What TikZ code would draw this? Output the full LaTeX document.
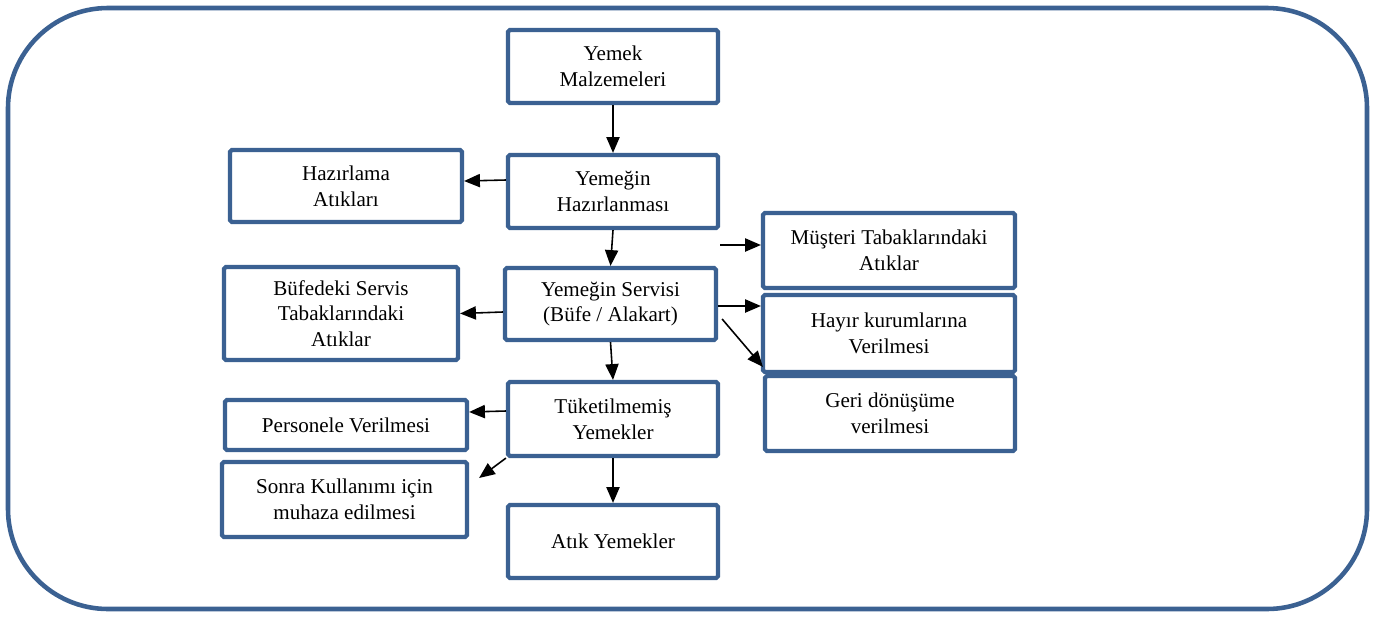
\documentclass[tikz,border=0pt]{standalone}
\usepackage{fontspec}
\setmainfont{Liberation Serif}
\usepackage{xcolor}
\usetikzlibrary{arrows.meta,calc}
\definecolor{boxblue}{RGB}{59,97,146}
\tikzset{
  kutu/.style={draw=boxblue,line width=2.4pt,align=center,inner sep=2pt,
    rounded corners=1pt,font=\fontsize{12}{14.6}\selectfont},
  ok/.style={-{Triangle[length=9pt,width=7.5pt]},line width=0.9pt}
}
\begin{document}
\begin{tikzpicture}[x=0.02cm,y=-0.02cm]
    \useasboundingbox (0,0) rectangle (1375,616);
    \draw[boxblue,line width=2.6pt,rounded corners=2cm] (8,8) rectangle (1367,609);
    % orta sutun
    \node[kutu,minimum width=4.2cm,minimum height=1.46cm] (malz) at (613,66.5) {Yemek\\Malzemeleri};
    \node[kutu,minimum width=4.2cm,minimum height=1.46cm] (hazir) at (613,191.5) {Yemeğin\\Hazırlanması};
    \node[kutu,minimum width=4.22cm,minimum height=1.44cm] (servis) at (610.5,304) {Yemeğin Servisi\\(Büfe / Alakart)};
    \node[kutu,minimum width=4.2cm,minimum height=1.48cm] (tuket) at (613,419) {Tüketilmemiş\\Yemekler};
    \node[kutu,minimum width=4.2cm,minimum height=1.46cm] (atik) at (613,541.5) {Atık Yemekler};
    % sol sutun
    \node[kutu,minimum width=4.64cm,minimum height=1.44cm] (hazatik) at (346,186) {Hazırlama\\Atıkları};
    \node[kutu,minimum width=4.68cm,minimum height=1.86cm] (bufe) at (341,313.5) {Büfedeki Servis\\Tabaklarındaki\\Atıklar};
    \node[kutu,minimum width=4.84cm,minimum height=1.0cm] (personel) at (346,425) {Personele Verilmesi};
    \node[kutu,minimum width=4.9cm,minimum height=1.5cm] (sonra) at (344.5,499.5) {Sonra Kullanımı için\\muhaza edilmesi};
    % sag sutun
    \node[kutu,minimum width=5.04cm,minimum height=1.5cm] (musteri) at (889,250.5) {Müşteri Tabaklarındaki\\Atıklar};
    \node[kutu,minimum width=5.04cm,minimum height=1.54cm] (hayir) at (889,333.5) {Hayır kurumlarına\\Verilmesi};
    \node[kutu,minimum width=5.0cm,minimum height=1.5cm] (geri) at (890,413.5) {Geri dönüşüme\\verilmesi};
    \coordinate (mbas) at (720,245);
    % oklar
    \draw[ok] (malz.south) -- (hazir.north);
    \draw[ok] ([yshift=0.23cm]hazir.west) -- ([yshift=0.1cm]hazatik.east);
    \draw[ok] (hazir.south) -- (servis.north);
    \draw[ok] (mbas) -- (mbas -| musteri.west);
    \draw[ok] ([yshift=-0.16cm]servis.west) -- (bufe.east);
    \draw[ok] ([yshift=-0.04cm]servis.east) -- ([yshift=-0.04cm]servis.east -| hayir.west);
    \draw[ok] ([yshift=-0.3cm,xshift=0.08cm]servis.east) -- ([yshift=0.14cm]geri.north west);
    \draw[ok] (servis.south) -- (tuket.north);
    \draw[ok] ([yshift=0.16cm]tuket.west) -- ([yshift=0.26cm]personel.east);
    \draw[ok] (tuket.south west) -- ([xshift=0.2cm,yshift=0.43cm]sonra.east);
    \draw[ok] (tuket.south) -- (atik.north);
\end{tikzpicture}
\end{document}
